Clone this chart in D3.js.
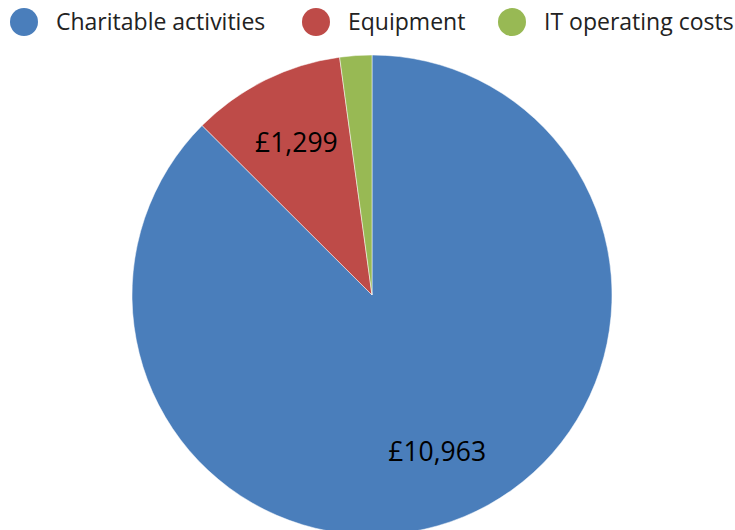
<!DOCTYPE html>
<html>
<head>
<meta charset="utf-8">
<title>pie</title>
<script src="https://cdn.jsdelivr.net/npm/d3@7"></script>
<style>
  body { margin: 0; background: #fff; }
  .legend text { font-family: "Open Sans", sans-serif; font-size: 23px; fill: #222; }
  .label { font-family: "Open Sans", sans-serif; font-size: 26.5px; fill: #000; }
</style>
</head>
<body>
<script>
  // data
  const categories = ["Charitable activities", "Equipment", "IT operating costs"];
  const amounts = [10963, 1299, 270];
  const labels = ["£10,963", "£1,299", ""];
  const colours = ["#4a7ebb", "#be4b48", "#98b954"];

  const width = 735, height = 530;
  const cx = 372, cy = 295, radius = 240;

  const svg = d3.select("body").append("svg")
    .attr("width", width)
    .attr("height", height);

  const rows = categories.map((c, i) => ({ name: c, value: amounts[i], label: labels[i], colour: colours[i] }));

  const pie = d3.pie().sort(null).value(d => d.value);
  const arc = d3.arc().innerRadius(0).outerRadius(radius);
  const labelArc = d3.arc().innerRadius(170).outerRadius(170);

  const g = svg.append("g").attr("transform", "translate(" + cx + "," + cy + ")");

  g.selectAll("path")
    .data(pie(rows))
    .join("path")
    .attr("d", arc)
    .attr("fill", d => d.data.colour)
    .attr("stroke", "#fff")
    .attr("stroke-width", 0.5);

  g.selectAll("text")
    .data(pie(rows))
    .join("text")
    .attr("class", "label")
    .attr("transform", d => "translate(" + labelArc.centroid(d) + ")")
    .attr("text-anchor", "middle")
    .attr("dy", "0.35em")
    .text(d => d.data.label);

  // legend
  const legendX = d3.scaleOrdinal().domain(categories).range([24, 316, 512]);
  const legend = svg.append("g").attr("class", "legend")
    .selectAll("g")
    .data(rows)
    .join("g")
    .attr("transform", d => "translate(" + legendX(d.name) + ",22)");

  legend.append("circle")
    .attr("r", 14)
    .attr("fill", d => d.colour);

  legend.append("text")
    .attr("x", 32)
    .attr("dy", "0.35em")
    .text(d => d.name);
</script>
</body>
</html>
